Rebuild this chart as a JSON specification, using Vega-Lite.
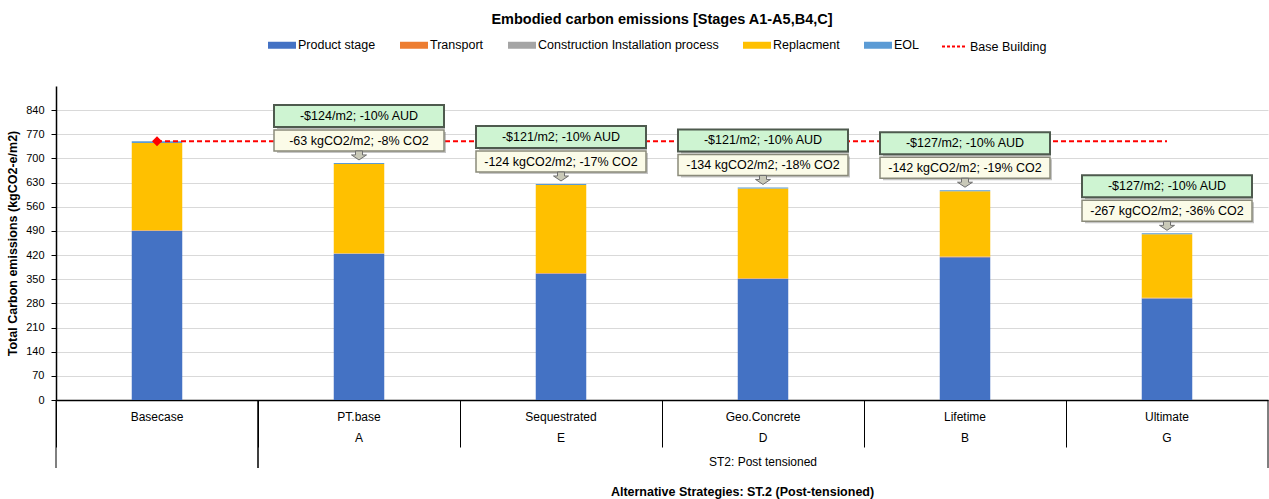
{
  "$schema": "https://vega.github.io/schema/vega-lite/v6.json",
  "width": 1212,
  "height": 314,
  "autosize": {"type": "none"},
  "padding": {"left": 56, "top": 86, "right": 1, "bottom": 99},
  "config": {
    "font": "Liberation Sans",
    "view": {"stroke": null},
    "axis": {"labelColor": "#000", "titleColor": "#000"},
    "axisY": {
      "labelOverlap": false,
      "labelFlush": false,
      "gridColor": "#D9D9D9",
      "domainColor": "#000",
      "domainWidth": 1.5,
      "tickColor": "#000",
      "tickSize": 5,
      "labelFontSize": 11,
      "labelPadding": 7,
      "titleFontSize": 12.5,
      "titleFontWeight": "bold",
      "titlePadding": 6
    },
    "legend": {"labelFontSize": 12.5, "labelColor": "#000", "padding": 0, "labelLimit": 400}
  },
  "title": {
    "text": "Embodied carbon emissions [Stages A1-A5,B4,C]",
    "fontSize": 14.5,
    "fontWeight": "bold",
    "color": "#000",
    "anchor": "middle"
  },
  "datasets": {
    "stages": [
      {"cat": "Basecase", "stage": "Product stage", "value": 490},
      {"cat": "Basecase", "stage": "Transport", "value": 1},
      {"cat": "Basecase", "stage": "Construction Installation process", "value": 1},
      {"cat": "Basecase", "stage": "Replacment", "value": 253},
      {"cat": "Basecase", "stage": "EOL", "value": 5},
      {"cat": "PT.base", "stage": "Product stage", "value": 423},
      {"cat": "PT.base", "stage": "Transport", "value": 1},
      {"cat": "PT.base", "stage": "Construction Installation process", "value": 1},
      {"cat": "PT.base", "stage": "Replacment", "value": 259},
      {"cat": "PT.base", "stage": "EOL", "value": 3},
      {"cat": "Sequestrated", "stage": "Product stage", "value": 366},
      {"cat": "Sequestrated", "stage": "Transport", "value": 1},
      {"cat": "Sequestrated", "stage": "Construction Installation process", "value": 1},
      {"cat": "Sequestrated", "stage": "Replacment", "value": 255},
      {"cat": "Sequestrated", "stage": "EOL", "value": 3},
      {"cat": "Geo.Concrete", "stage": "Product stage", "value": 351},
      {"cat": "Geo.Concrete", "stage": "Transport", "value": 1},
      {"cat": "Geo.Concrete", "stage": "Construction Installation process", "value": 1},
      {"cat": "Geo.Concrete", "stage": "Replacment", "value": 260},
      {"cat": "Geo.Concrete", "stage": "EOL", "value": 3},
      {"cat": "Lifetime", "stage": "Product stage", "value": 414},
      {"cat": "Lifetime", "stage": "Transport", "value": 1},
      {"cat": "Lifetime", "stage": "Construction Installation process", "value": 1},
      {"cat": "Lifetime", "stage": "Replacment", "value": 189},
      {"cat": "Lifetime", "stage": "EOL", "value": 3},
      {"cat": "Ultimate", "stage": "Product stage", "value": 294},
      {"cat": "Ultimate", "stage": "Transport", "value": 1},
      {"cat": "Ultimate", "stage": "Construction Installation process", "value": 1},
      {"cat": "Ultimate", "stage": "Replacment", "value": 184},
      {"cat": "Ultimate", "stage": "EOL", "value": 3}
    ],
    "comparisons": [
      {"cat": "Basecase", "total": 750, "baseline": 750, "aud": null, "co2": null},
      {"cat": "PT.base", "total": 687, "baseline": 750, "aud": "-$124/m2; -10% AUD", "co2": "-63 kgCO2/m2; -8% CO2"},
      {"cat": "Sequestrated", "total": 626, "baseline": 750, "aud": "-$121/m2; -10% AUD", "co2": "-124 kgCO2/m2; -17% CO2"},
      {"cat": "Geo.Concrete", "total": 616, "baseline": 750, "aud": "-$121/m2; -10% AUD", "co2": "-134 kgCO2/m2; -18% CO2"},
      {"cat": "Lifetime", "total": 608, "baseline": 750, "aud": "-$127/m2; -10% AUD", "co2": "-142 kgCO2/m2; -19% CO2"},
      {"cat": "Ultimate", "total": 483, "baseline": 750, "aud": "-$127/m2; -10% AUD", "co2": "-267 kgCO2/m2; -36% CO2"}
    ],
    "groups": [
      {"group": "", "first": "Basecase", "mid": "Basecase", "last": "Basecase"},
      {"group": "ST2: Post tensioned", "first": "PT.base", "mid": "Geo.Concrete", "last": "Ultimate"}
    ]
  },
  "layer": [
    {
      "data": {"name": "stages"},
      "transform": [
        {"calculate": "indexof(['Product stage', 'Transport', 'Construction Installation process', 'Replacment', 'EOL'], datum.stage)", "as": "stackRank"}
      ],
      "mark": {"type": "bar", "width": {"band": 0.25}},
      "encoding": {
        "x": {
          "field": "cat",
          "type": "nominal",
          "title": "Alternative Strategies: ST.2 (Post-tensioned)",
          "scale": {
            "domain": ["Basecase", "PT.base", "Sequestrated", "Geo.Concrete", "Lifetime", "Ultimate"],
            "paddingInner": 0,
            "paddingOuter": 0
          },
          "axis": {
            "labelAngle": 0,
            "labelFontSize": 12,
            "labelPadding": -36,
            "labelLineHeight": 21,
            "labelOverlap": false,
            "labelExpr": "datum.label === 'Basecase' ? 'Basecase' : [datum.label, datum.label === 'PT.base' ? 'A' : datum.label === 'Sequestrated' ? 'E' : datum.label === 'Geo.Concrete' ? 'D' : datum.label === 'Lifetime' ? 'B' : 'G']",
            "bandPosition": 0,
            "tickSize": 47,
            "tickColor": "#000",
            "tickWidth": 1,
            "domainColor": "#000",
            "domainWidth": 1.5,
            "grid": false,
            "titleFontSize": 12.5,
            "titleFontWeight": "bold",
            "titleX": 686,
            "titleY": 91,
            "titleBaseline": "middle"
          }
        },
        "y": {
          "field": "value",
          "type": "quantitative",
          "stack": "zero",
          "title": "Total Carbon emissions (kgCO2-e/m2)",
          "scale": {"domain": [0, 910], "nice": false},
          "axis": {"values": [0, 70, 140, 210, 280, 350, 420, 490, 560, 630, 700, 770, 840]}
        },
        "order": {"field": "stackRank", "sort": "ascending"},
        "color": {
          "field": "stage",
          "type": "nominal",
          "scale": {
            "domain": ["Product stage", "Transport", "Construction Installation process", "Replacment", "EOL"],
            "range": ["#4472C4", "#ED7D31", "#A5A5A5", "#FFC000", "#5B9BD5"]
          },
          "legend": {
            "orient": "none",
            "legendX": 212,
            "legendY": -55,
            "direction": "horizontal",
            "title": null,
            "symbolType": "M-1,-0.25H1V0.25H-1Z",
            "symbolSize": 784,
            "symbolStrokeWidth": 0,
            "labelOffset": 2,
            "columnPadding": 24
          }
        }
      }
    },
    {
      "data": {"name": "comparisons"},
      "mark": {"type": "line", "strokeDash": [5, 3], "strokeWidth": 2},
      "encoding": {
        "x": {"field": "cat", "type": "nominal", "title": "Alternative Strategies: ST.2 (Post-tensioned)"},
        "y": {
          "field": "baseline",
          "type": "quantitative",
          "title": "Total Carbon emissions (kgCO2-e/m2)",
          "axis": {"values": [0, 70, 140, 210, 280, 350, 420, 490, 560, 630, 700, 770, 840]}
        },
        "stroke": {
          "datum": "Base Building",
          "type": "nominal",
          "scale": {"range": ["#FF0000"]},
          "legend": {
            "orient": "none",
            "legendX": 885,
            "legendY": -53,
            "title": null,
            "symbolType": "stroke",
            "symbolSize": 625,
            "symbolStrokeWidth": 2,
            "symbolDash": [3, 2],
            "labelOffset": 2
          }
        }
      }
    },
    {
      "data": {"name": "comparisons"},
      "transform": [{"filter": "datum.cat === 'Basecase'"}],
      "mark": {"type": "point", "shape": "diamond", "filled": true, "color": "#FF0000", "size": 100, "opacity": 1},
      "encoding": {
        "x": {"field": "cat", "type": "nominal", "title": "Alternative Strategies: ST.2 (Post-tensioned)"},
        "y": {
          "field": "baseline",
          "type": "quantitative",
          "title": "Total Carbon emissions (kgCO2-e/m2)",
          "axis": {"values": [0, 70, 140, 210, 280, 350, 420, 490, 560, 630, 700, 770, 840]}
        }
      }
    },
    {
      "data": {"name": "comparisons"},
      "transform": [{"filter": "isValid(datum.aud)"}],
      "encoding": {
        "x": {"field": "cat", "type": "nominal", "title": "Alternative Strategies: ST.2 (Post-tensioned)"},
        "y": {
          "field": "total",
          "type": "quantitative",
          "title": "Total Carbon emissions (kgCO2-e/m2)",
          "axis": {"values": [0, 70, 140, 210, 280, 350, 420, 490, 560, 630, 700, 770, 840]}
        }
      },
      "layer": [
        {"mark": {"type": "point", "shape": "M-82,-56H86V-34H-82Z", "size": 4, "filled": true, "fill": "#7F7F7F", "opacity": 0.55, "strokeWidth": 0}},
        {"mark": {"type": "point", "shape": "M-85,-58H85V-36H-85Z", "size": 4, "filled": true, "fill": "#CEF4D2", "stroke": "#4E5A4E", "strokeWidth": 2, "opacity": 1}},
        {"mark": {"type": "point", "shape": "M-82,-31H87V-10H-82Z", "size": 4, "filled": true, "fill": "#7F7F7F", "opacity": 0.45, "strokeWidth": 0}},
        {"mark": {"type": "point", "shape": "M-85,-33H85V-12H-85Z", "size": 4, "filled": true, "fill": "#FBFBE8", "stroke": "#8A8A7A", "strokeWidth": 1.5, "opacity": 1}},
        {"mark": {"type": "point", "shape": "M-3.5,-12H3.5V-8H7.5L0,-3L-7.5,-8H-3.5Z", "size": 4, "filled": true, "fill": "#C9C9B8", "stroke": "#6E6E6E", "strokeWidth": 1, "opacity": 1}},
        {"mark": {"type": "text", "dy": -47, "fontSize": 12.5, "baseline": "middle", "color": "#000"}, "encoding": {"text": {"field": "aud"}}},
        {"mark": {"type": "text", "dy": -22, "fontSize": 12.5, "baseline": "middle", "color": "#000"}, "encoding": {"text": {"field": "co2"}}}
      ]
    },
    {
      "data": {"name": "groups"},
      "layer": [
        {
          "mark": {"type": "rule", "color": "#000", "strokeWidth": 1, "y2Offset": 68},
          "encoding": {
            "x": {"field": "first", "type": "nominal", "bandPosition": 0, "title": "Alternative Strategies: ST.2 (Post-tensioned)"},
            "y": {
              "datum": 0,
              "type": "quantitative",
              "title": "Total Carbon emissions (kgCO2-e/m2)",
              "axis": {"values": [0, 70, 140, 210, 280, 350, 420, 490, 560, 630, 700, 770, 840]}
            },
            "y2": {"datum": 0}
          }
        },
        {
          "mark": {"type": "rule", "color": "#000", "strokeWidth": 1, "y2Offset": 68},
          "encoding": {
            "x": {"field": "last", "type": "nominal", "bandPosition": 1, "title": "Alternative Strategies: ST.2 (Post-tensioned)"},
            "y": {
              "datum": 0,
              "type": "quantitative",
              "title": "Total Carbon emissions (kgCO2-e/m2)",
              "axis": {"values": [0, 70, 140, 210, 280, 350, 420, 490, 560, 630, 700, 770, 840]}
            },
            "y2": {"datum": 0}
          }
        },
        {
          "mark": {"type": "text", "dy": 62, "fontSize": 12, "baseline": "middle", "color": "#000"},
          "encoding": {
            "x": {"field": "mid", "type": "nominal", "title": "Alternative Strategies: ST.2 (Post-tensioned)"},
            "y": {
              "datum": 0,
              "type": "quantitative",
              "title": "Total Carbon emissions (kgCO2-e/m2)",
              "axis": {"values": [0, 70, 140, 210, 280, 350, 420, 490, 560, 630, 700, 770, 840]}
            },
            "text": {"field": "group"}
          }
        }
      ]
    }
  ]
}
